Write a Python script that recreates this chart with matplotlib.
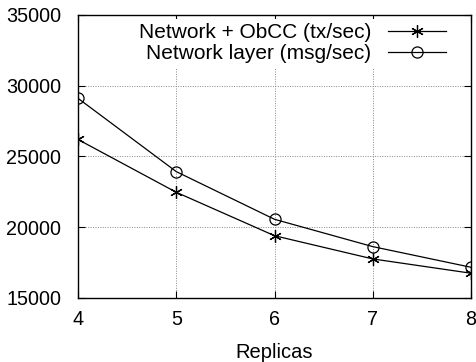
import matplotlib
matplotlib.use("Agg")
import matplotlib.pyplot as plt

plt.rcParams['font.family'] = ['Liberation Sans', 'DejaVu Sans']

replicas = [4, 5, 6, 7, 8]
obcc_tx = [26200, 22470, 19400, 17760, 16750]
net_msg = [29110, 23930, 20560, 18630, 17170]

fig = plt.figure(figsize=(4.77, 3.62), dpi=100)
ax = fig.add_axes([0.1635, 0.1768, 0.824, 0.782])

ax.plot(replicas, obcc_tx, color='black', lw=0.9, marker=(6, 2, 0), ms=9, mew=0.9,
        label='Network + ObCC (tx/sec)')
ax.plot(replicas, net_msg, color='black', lw=0.9, marker='o', ms=8, mfc='none', mew=0.9,
        label='Network layer (msg/sec)')

ax.set_xlim(4, 8)
ax.set_ylim(15000, 35000)
ax.set_xticks(replicas)
ax.set_yticks([15000, 20000, 25000, 30000, 35000])
ax.grid(True, color='#888888', linestyle=(0, (1, 1.5)), linewidth=0.7)
ax.tick_params(direction='in', length=5, labelsize=14.2, top=True, right=True)
ax.tick_params(axis='y', pad=12)
ax.tick_params(axis='x', pad=9)
ax.set_xlabel('Replicas', fontsize=14.5, labelpad=10)
for s in ax.spines.values():
    s.set_linewidth(1.0)

leg = ax.legend(loc='upper right', bbox_to_anchor=(0.9466, 0.985), markerfirst=False,
                fontsize=15, frameon=True, handlelength=2.8, borderaxespad=0,
                borderpad=0.2, labelspacing=0.1, handletextpad=0.77, fancybox=False)
leg.get_frame().set_edgecolor('none')
leg.get_frame().set_facecolor('white')
leg.get_frame().set_alpha(1)
for t in leg.get_texts():
    t.set_ha('right')

fig.savefig('out.png', dpi=100)
